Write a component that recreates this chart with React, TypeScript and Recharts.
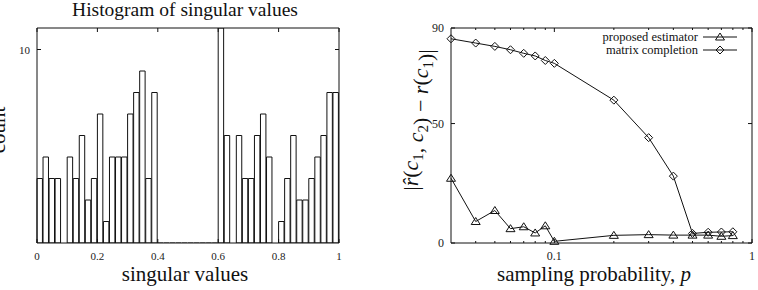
import React from 'react';
import { BarChart, Bar, LineChart, Line, XAxis, YAxis, Legend, Label } from 'recharts';

const FONT = '"Liberation Serif", "DejaVu Serif", serif';
const INK = '#111';

// singular values histogram: 50 bins of width 0.02 over [0, 1]
const BIN_WIDTH = 0.02;
const singularCounts = [
  4, 5, 4, 4, 1, 5, 4, 6, 3, 4,
  7, 2, 5, 5, 5, 7, 8, 9, 4, 8,
  0, 0, 0, 0, 0, 0, 0, 0, 0, 0,
  11, 6, 1, 6, 4, 4, 6, 7, 5, 1,
  2, 4, 6, 3, 3, 4, 5, 6, 8, 8,
];
const singularTicks = [0, 0.2, 0.4, 0.6, 0.8, 1];
const countTicks = [10];

// estimation error vs sampling probability
const samplingProb = [0.03, 0.04, 0.05, 0.06, 0.07, 0.08, 0.09, 0.1, 0.2, 0.3, 0.4, 0.5, 0.6, 0.7, 0.8];
const proposedError = [27.1, 9.0, 13.6, 6.0, 6.8, 4.2, 7.2, 0.7, 3.2, 3.5, 3.3, 3.3, 3.3, 2.8, 3.1];
const completionError = [85.5, 83.7, 82.3, 80.9, 79.4, 78.3, 76.4, 75.2, 59.8, 44.1, 28.0, 4.0, 4.5, 4.6, 4.7];
const probMajorTicks = [0.1, 1];
const probTicks = [0.04, 0.05, 0.06, 0.07, 0.08, 0.09, 0.1, 0.2, 0.3, 0.4, 0.5, 0.6, 0.7, 0.8, 0.9, 1];
const errorTicks = [0, 50, 90];
const seriesOrder = ['proposed', 'completion'];

const histData = singularCounts.map((count, i) => ({ sv: (i + 0.5) * BIN_WIDTH, count }));
const errData = samplingProb.map((p, i) => ({
  p,
  proposed: proposedError[i],
  completion: completionError[i],
}));

// axes are 1px thick, so margins are one short of the plot box edges
const HIST_W = 380;
const HIST_MARGIN = { top: 27, right: 40, bottom: 46, left: 36 };
const HIST_PLOT_W = HIST_W - HIST_MARGIN.left - HIST_MARGIN.right - 2;

const ERR_W = 378;
const ERR_MARGIN = { top: 27, right: 5, bottom: 46, left: 70 };

type Side = 'top' | 'bottom' | 'left' | 'right';

// gnuplot-style ticks pointing into the plot box, labels outside
const inTick =
  (side: Side, fontSize: number, labelled: number[], major?: number[]) =>
  (props: any) => {
    const { x, y, payload } = props;
    const v = payload.value;
    const len = major && !major.includes(v) ? 2 : 4;
    let mark;
    let label = null;
    const show = labelled.includes(v);
    if (side === 'bottom') {
      mark = <line x1={x} x2={x} y1={y} y2={y - len} stroke={INK} />;
      if (show)
        label = (
          <text x={x} y={y + 17} textAnchor="middle" fontSize={fontSize} fontFamily={FONT} fill="#222">
            {v}
          </text>
        );
    } else if (side === 'top') {
      mark = <line x1={x} x2={x} y1={y} y2={y + len} stroke={INK} />;
    } else if (side === 'left') {
      mark = <line x1={x} x2={x + len} y1={y} y2={y} stroke={INK} />;
      if (show)
        label = (
          <text x={x - 7} y={y + 4} textAnchor="end" fontSize={fontSize} fontFamily={FONT} fill="#222">
            {v}
          </text>
        );
    } else {
      mark = <line x1={x} x2={x - len} y1={y} y2={y} stroke={INK} />;
    }
    return (
      <g>
        {mark}
        {label}
      </g>
    );
  };

const Triangle = ({ cx, cy }: { cx: number; cy: number }) => (
  <path
    d={`M${cx},${cy - 4}L${cx + 4.5},${cy + 3}L${cx - 4.5},${cy + 3}Z`}
    fill="none"
    stroke={INK}
    strokeWidth={1}
  />
);

const Diamond = ({ cx, cy }: { cx: number; cy: number }) => (
  <path
    d={`M${cx},${cy - 4}L${cx + 4},${cy}L${cx},${cy + 4}L${cx - 4},${cy}Z`}
    fill="none"
    stroke={INK}
    strokeWidth={1}
  />
);

const renderLegend = ({ payload }: any) => {
  const items = [...(payload || [])].sort(
    (a: any, b: any) => seriesOrder.indexOf(a.dataKey) - seriesOrder.indexOf(b.dataKey),
  );
  return (
    <svg width={160} height={30} style={{ display: 'block' }}>
      {items.map((item: any, i: number) => {
        const cy = 8 + i * 13;
        return (
          <g key={item.dataKey}>
            <text x={118} y={cy + 4} textAnchor="end" fontSize={12.5} fontFamily={FONT} fill={INK}>
              {item.value}
            </text>
            <line x1={123} x2={157} y1={cy} y2={cy} stroke={INK} />
            {item.dataKey === 'proposed' ? <Triangle cx={140} cy={cy} /> : <Diamond cx={140} cy={cy} />}
          </g>
        );
      })}
    </svg>
  );
};

const Sub = ({ children }: { children: React.ReactNode }) => (
  <>
    <tspan fontSize={15} dy={5}>
      {children}
    </tspan>
    <tspan dy={-5} />
  </>
);

function SingularHistogram() {
  return (
    <BarChart width={HIST_W} height={290} data={histData} margin={HIST_MARGIN} barCategoryGap={0}>
      <XAxis
        dataKey="sv"
        type="number"
        domain={[0, 1]}
        ticks={singularTicks}
        interval={0}
        height={1}
        tickSize={0}
        tickMargin={0}
        tickLine={false}
        axisLine={{ stroke: INK }}
        tick={inTick('bottom', 11, singularTicks)}
      >
        <Label
          content={() => (
            <text x={185} y={281} textAnchor="middle" fontSize={21} fontFamily={FONT} fill={INK}>
              singular values
            </text>
          )}
        />
      </XAxis>
      <XAxis
        xAxisId="top"
        orientation="top"
        dataKey="sv"
        type="number"
        domain={[0, 1]}
        ticks={singularTicks}
        interval={0}
        height={1}
        tickSize={0}
        tickMargin={0}
        tickLine={false}
        axisLine={{ stroke: INK }}
        tick={inTick('top', 11, [])}
      >
        <Label
          content={() => (
            <text x={185} y={16} textAnchor="middle" fontSize={19.5} fontFamily={FONT} fill={INK}>
              Histogram of singular values
            </text>
          )}
        />
      </XAxis>
      <YAxis
        type="number"
        domain={[1, 11]}
        allowDataOverflow
        ticks={countTicks}
        interval={0}
        width={1}
        tickSize={0}
        tickMargin={0}
        tickLine={false}
        axisLine={{ stroke: INK }}
        tick={inTick('left', 11, countTicks)}
      >
        <Label
          content={() => (
            <text
              transform="translate(5,130) rotate(-90)"
              textAnchor="middle"
              fontSize={21}
              fontFamily={FONT}
              fill={INK}
            >
              count
            </text>
          )}
        />
      </YAxis>
      <YAxis
        yAxisId="right"
        orientation="right"
        dataKey="count"
        type="number"
        domain={[1, 11]}
        allowDataOverflow
        ticks={countTicks}
        interval={0}
        width={1}
        tickSize={0}
        tickMargin={0}
        tickLine={false}
        axisLine={{ stroke: INK }}
        tick={inTick('right', 11, [])}
      />
      <Bar
        dataKey="count"
        fill="#fff"
        stroke={INK}
        strokeWidth={1}
        barSize={HIST_PLOT_W * BIN_WIDTH}
        isAnimationActive={false}
      />
    </BarChart>
  );
}

function ErrorChart() {
  return (
    <LineChart width={ERR_W} height={290} data={errData} margin={ERR_MARGIN}>
      <XAxis
        dataKey="p"
        type="number"
        scale="log"
        domain={[0.03, 1]}
        ticks={probTicks}
        interval={0}
        height={1}
        tickSize={0}
        tickMargin={0}
        tickLine={false}
        axisLine={{ stroke: INK }}
        tick={inTick('bottom', 12, probMajorTicks, probMajorTicks)}
      >
        <Label
          content={() => (
            <text x={214} y={281} textAnchor="middle" fontSize={21} fontFamily={FONT} fill={INK}>
              sampling probability, <tspan fontStyle="italic">p</tspan>
            </text>
          )}
        />
      </XAxis>
      <XAxis
        xAxisId="top"
        orientation="top"
        dataKey="p"
        type="number"
        scale="log"
        domain={[0.03, 1]}
        ticks={probTicks}
        interval={0}
        height={1}
        tickSize={0}
        tickMargin={0}
        tickLine={false}
        axisLine={{ stroke: INK }}
        tick={inTick('top', 12, [], probMajorTicks)}
      />
      <YAxis
        type="number"
        domain={[0, 90]}
        ticks={errorTicks}
        interval={0}
        width={1}
        tickSize={0}
        tickMargin={0}
        tickLine={false}
        axisLine={{ stroke: INK }}
        tick={inTick('left', 12, errorTicks)}
      >
        <Label
          content={() => (
            <text
              transform="translate(38,120) rotate(-90)"
              textAnchor="middle"
              fontSize={22}
              fontFamily={FONT}
              fill={INK}
            >
              |<tspan fontStyle="italic">{'r\u0302'}</tspan>(<tspan fontStyle="italic">c</tspan>
              <Sub>1</Sub>
              {', '}
              <tspan fontStyle="italic">c</tspan>
              <Sub>2</Sub>
              {') \u2212 '}
              <tspan fontStyle="italic">r</tspan>(<tspan fontStyle="italic">c</tspan>
              <Sub>1</Sub>
              {')|'}
            </text>
          )}
        />
      </YAxis>
      <YAxis
        yAxisId="right"
        orientation="right"
        dataKey="completion"
        type="number"
        domain={[0, 90]}
        allowDataOverflow
        ticks={errorTicks}
        interval={0}
        width={1}
        tickSize={0}
        tickMargin={0}
        tickLine={false}
        axisLine={{ stroke: INK }}
        tick={inTick('right', 12, [])}
      />
      <Legend
        content={renderLegend}
        layout="vertical"
        align="center"
        verticalAlign="middle"
        wrapperStyle={{ top: 29, left: 200, width: 160, height: 30 }}
      />
      <Line
        dataKey="proposed"
        name="proposed estimator"
        stroke={INK}
        strokeWidth={1}
        dot={(d: any) => <Triangle key={`t${d.index}`} cx={d.cx} cy={d.cy} />}
        activeDot={false}
        isAnimationActive={false}
      />
      <Line
        dataKey="completion"
        name="matrix completion"
        stroke={INK}
        strokeWidth={1}
        dot={(d: any) => <Diamond key={`d${d.index}`} cx={d.cx} cy={d.cy} />}
        activeDot={false}
        isAnimationActive={false}
      />
    </LineChart>
  );
}

export default function App() {
  return (
    <div style={{ position: 'absolute', left: 0, top: 0, width: 758, height: 290, background: '#fff' }}>
      <div style={{ position: 'absolute', left: 0, top: 0 }}>
        <SingularHistogram />
      </div>
      <div style={{ position: 'absolute', left: 380, top: 0 }}>
        <ErrorChart />
      </div>
    </div>
  );
}
